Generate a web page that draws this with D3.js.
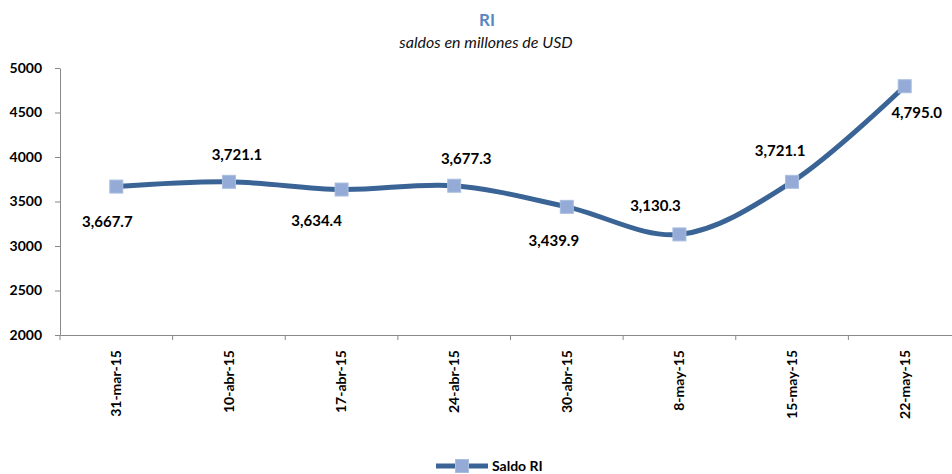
<!DOCTYPE html>
<html>
<head>
<meta charset="utf-8">
<script src="https://cdn.jsdelivr.net/npm/d3@7"></script>
<style>
  html, body { margin: 0; padding: 0; background: #ffffff; }
  svg { display: block; font-family: Lato, "Open Sans", sans-serif; }
</style>
</head>
<body>
<svg id="chart" width="952" height="474"></svg>
<script>
// ---- data ----
const categories = ["31-mar-15", "10-abr-15", "17-abr-15", "24-abr-15", "30-abr-15", "8-may-15", "15-may-15", "22-may-15"];
const saldoRI = [3667.7, 3721.1, 3634.4, 3677.3, 3439.9, 3130.3, 3721.1, 4795.0];
const yTicks = [2000, 2500, 3000, 3500, 4000, 4500, 5000];
const seriesName = "Saldo RI";
const titleText = "RI";
const subtitleText = "saldos en millones de USD";

// ---- layout (label offsets relative to marker, px) ----
const labelOffsets = [[-9, 35], [8, -27], [-25, 31], [12, -27], [-13, 34], [-24, -29], [-12, -31], [12, 27]];

const svg = d3.select("#chart");
const plotLeft = 60, plotRight = 961, plotTop = 68, plotBottom = 335;
const lineColor = "#3B6496", markerColor = "#93ABD6", axisColor = "#888888";

const x = d3.scaleBand().domain(categories).range([plotLeft, plotRight]);
const y = d3.scaleLinear().domain([2000, 5000]).range([plotBottom, plotTop]);

// title
svg.append("text").attr("x", 487).attr("y", 26).attr("text-anchor", "middle")
  .attr("font-size", 17).attr("font-weight", "bold").attr("fill", "#5B86C2").text(titleText);
svg.append("text").attr("x", 486).attr("y", 48).attr("text-anchor", "middle")
  .attr("font-size", 16).attr("font-style", "italic").attr("fill", "#111").text(subtitleText);

// y axis
const yAxis = svg.append("g").attr("transform", `translate(${plotLeft},0)`)
  .call(d3.axisLeft(y).tickValues(yTicks).tickFormat(d3.format("d")).tickSize(5).tickPadding(13).tickSizeOuter(0));
yAxis.select(".domain").attr("stroke", axisColor);
yAxis.selectAll(".tick line").attr("stroke", axisColor);
yAxis.selectAll(".tick text").attr("font-size", 14).attr("font-weight", "bold").attr("fill", "#000")
  .attr("font-family", "Lato, sans-serif");

// x axis
const xAxis = svg.append("g").attr("transform", `translate(0,${plotBottom})`)
  .call(d3.axisBottom(x).tickSize(0).tickSizeOuter(0));
xAxis.select(".domain").attr("stroke", axisColor);
xAxis.selectAll(".tick line").remove();
// category boundary ticks
xAxis.selectAll(".bound").data(categories).enter().append("line").attr("class", "bound")
  .attr("x1", d => x(d)).attr("x2", d => x(d)).attr("y1", 0).attr("y2", 5).attr("stroke", axisColor);
xAxis.selectAll(".tick text")
  .attr("font-size", 14).attr("font-weight", "bold").attr("fill", "#000").attr("font-family", "Lato, sans-serif")
  .attr("transform", "rotate(-90)").attr("text-anchor", "end").attr("x", -15).attr("y", 0).attr("dy", "0.35em");

// line
const pts = categories.map((c, i) => [x(c) + x.bandwidth() / 2, y(saldoRI[i])]);
svg.append("path").attr("d", d3.line().curve(d3.curveCatmullRom.alpha(0.5))(pts))
  .attr("fill", "none").attr("stroke", lineColor).attr("stroke-width", 5);

// markers
const ms = 13;
svg.selectAll(".mk").data(pts).enter().append("rect").attr("class", "mk")
  .attr("x", d => d[0] - ms / 2).attr("y", d => d[1] - ms / 2).attr("width", ms).attr("height", ms)
  .attr("fill", markerColor).attr("stroke", "#A9BEE0").attr("stroke-width", 1);

// data labels
const fmt = d3.format(",.1f");
svg.selectAll(".dl").data(pts).enter().append("text").attr("class", "dl")
  .attr("x", (d, i) => d[0] + labelOffsets[i][0]).attr("y", (d, i) => d[1] + labelOffsets[i][1])
  .attr("dy", "0.35em").attr("text-anchor", "middle").attr("font-size", 15).attr("font-weight", "bold")
  .attr("fill", "#000").text((d, i) => fmt(saldoRI[i]));

// legend
const lg = svg.append("g");
lg.append("line").attr("x1", 436).attr("x2", 488).attr("y1", 466).attr("y2", 466)
  .attr("stroke", lineColor).attr("stroke-width", 5);
lg.append("rect").attr("x", 462 - ms / 2).attr("y", 466 - ms / 2).attr("width", ms).attr("height", ms)
  .attr("fill", markerColor).attr("stroke", "#A9BEE0");
lg.append("text").attr("x", 492).attr("y", 466).attr("dy", "0.35em").attr("font-size", 14)
  .attr("font-weight", "bold").attr("fill", "#000").text(seriesName);
</script>
</body>
</html>
